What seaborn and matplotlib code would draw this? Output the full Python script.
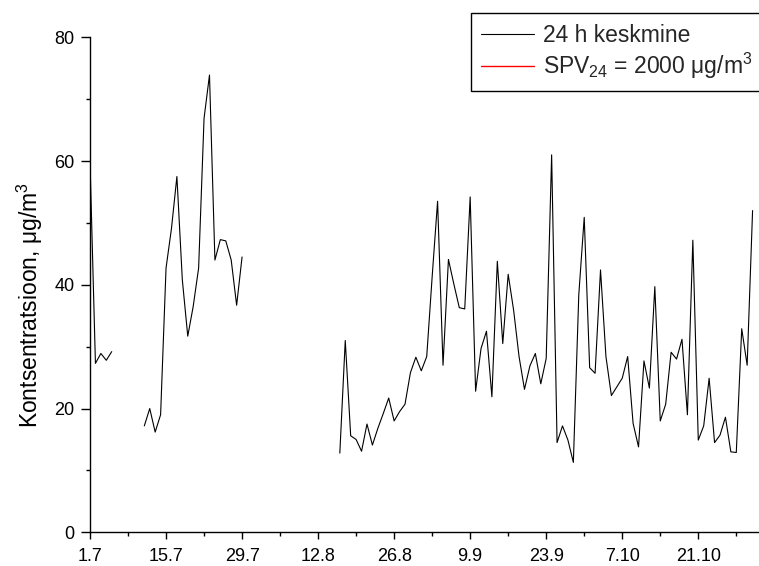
import numpy as np
import pandas as pd
import matplotlib
matplotlib.use("Agg")
import matplotlib.pyplot as plt
import seaborn as sns
from matplotlib.ticker import MultipleLocator

# ---- data (days counted from 1 July) ----
seg1_start = 0
seg1_values = [60.0, 27.3, 28.9, 27.8, 29.2]

seg2_start = 10
seg2_values = [17.2, 20.0, 16.2, 19.0, 42.7, 49.1, 57.5, 40.8, 31.7, 36.5,
               42.7, 66.9, 73.9, 44.0, 47.3, 47.1, 44.0, 36.7, 44.5]

seg3_start = 46
seg3_values = [12.8, 31.0, 15.6, 15.0, 13.1, 17.5, 14.1, 16.8, 19.2, 21.7,
               18.0, 19.5, 20.7, 25.8, 28.3, 26.1, 28.4, 41.3, 53.5, 27.0,
               44.1, 40.1, 36.3, 36.1, 54.2, 22.8, 29.7, 32.5, 21.9, 43.8,
               30.5, 41.7, 35.9, 28.4, 23.1, 26.9, 28.9, 24.0, 28.1, 61.0,
               14.5, 17.2, 14.9, 11.3, 38.4, 50.9, 26.6, 25.7, 42.4, 28.4,
               22.1, 23.5, 24.9, 28.4, 17.6, 13.8, 27.7, 23.3, 39.7, 18.0,
               20.7, 29.1, 28.0, 31.2, 19.0, 47.2, 14.9, 17.2, 24.9, 14.5,
               15.7, 18.6, 13.0, 12.9, 32.9, 27.0, 52.0]

tick_days = [0, 14, 28, 42, 56, 70, 84, 98, 112]
tick_labels = ["1.7", "15.7", "29.7", "12.8", "26.8", "9.9", "23.9", "7.10", "21.10"]
y_ticks = [0, 20, 40, 60, 80]
limit_value = 2000  # SPV24 limit, far above the plotted range

series_label = "24 h keskmine"
limit_label = "SPV$_{24}$ = 2000 \u03bcg/m$^3$"
y_label = "Kontsentratsioon, \u03bcg/m$^3$"

# ---- build long table ----
frames = []
for i, (start, vals) in enumerate([(seg1_start, seg1_values),
                                   (seg2_start, seg2_values),
                                   (seg3_start, seg3_values)]):
    frames.append(pd.DataFrame({"day": start + np.arange(len(vals)),
                                "value": vals, "segment": i}))
df = pd.concat(frames, ignore_index=True)

# ---- style ----
sns.set_style("ticks")
plt.rcParams["font.family"] = ["Liberation Sans", "DejaVu Sans"]
plt.rcParams["mathtext.fontset"] = "custom"
plt.rcParams["mathtext.rm"] = "Liberation Sans"
plt.rcParams["mathtext.it"] = "Liberation Sans:italic"
plt.rcParams["mathtext.bf"] = "Liberation Sans:bold"
plt.rcParams["mathtext.default"] = "regular"

fig = plt.figure(figsize=(7.59, 5.66), dpi=100)
ax = fig.add_axes([90 / 759, (566 - 532.3) / 566, 1 - 90 / 759, (532.3 - 37.3) / 566])

sns.lineplot(data=df, x="day", y="value", units="segment", estimator=None,
             color="black", lw=0.8, ax=ax)
limit_line = ax.axhline(limit_value, color="red", lw=1.0)

ax.set_xlim(0, (759 - 90) / 5.431)
ax.set_ylim(0, 80)
ax.set_xticks(tick_days)
ax.set_xticklabels(tick_labels)
ax.xaxis.set_minor_locator(MultipleLocator(7))
ax.set_yticks(y_ticks)
ax.yaxis.set_minor_locator(MultipleLocator(10))
sns.despine(ax=ax)

for s in ["left", "bottom"]:
    ax.spines[s].set_linewidth(1.0)
    ax.spines[s].set_color("black")

ax.tick_params(axis="x", which="major", length=5, width=1, pad=6, labelsize=13, colors="black")
ax.tick_params(axis="y", which="major", length=6.5, width=1, pad=4.5, labelsize=13, colors="black")
ax.tick_params(which="minor", length=3, width=1, color="black")

ax.set_xlabel("")
ax.set_ylabel(y_label, fontsize=16.5, color="black")
ax.yaxis.set_label_coords(-0.068, 0.46)

data_line = ax.lines[0]
leg = fig.legend([data_line, limit_line], [series_label, limit_label],
                 loc="upper left", bbox_to_anchor=(471 / 759, 1 - 13.3 / 566),
                 bbox_transform=fig.transFigure, borderaxespad=0,
                 fontsize=16.5, frameon=True, fancybox=False, framealpha=1,
                 edgecolor="black", handlelength=2.3, handletextpad=0.38,
                 labelspacing=0.18, borderpad=0.45)
leg.get_frame().set_linewidth(1.0)

fig.savefig("out.png", dpi=100)
